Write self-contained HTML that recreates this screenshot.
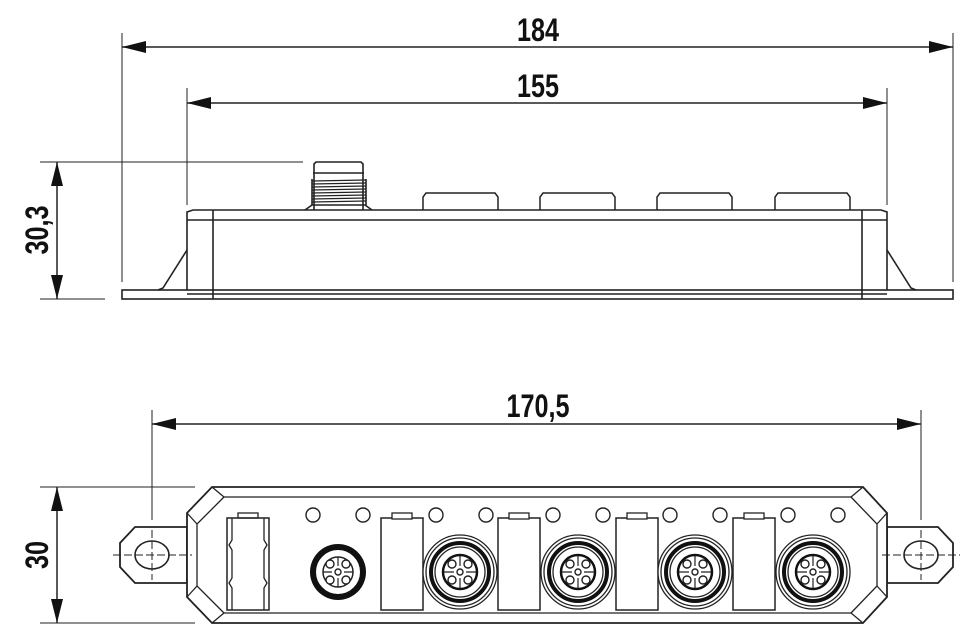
<!DOCTYPE html>
<html><head><meta charset="utf-8"><style>
html,body{margin:0;padding:0;background:#fff;}
svg{display:block;}
text{font-family:"Liberation Sans",sans-serif;font-weight:bold;fill:#111;}
</style></head><body>
<svg width="960" height="630" viewBox="0 0 960 630" xmlns="http://www.w3.org/2000/svg">
<defs>
<marker id="a" markerWidth="24" markerHeight="12" refX="0" refY="6" orient="auto" markerUnits="userSpaceOnUse">
<path d="M0,6 L24,0 L24,12 Z" fill="#111"/></marker>
<marker id="b" markerWidth="24" markerHeight="12" refX="24" refY="6" orient="auto" markerUnits="userSpaceOnUse">
<path d="M24,6 L0,0 L0,12 Z" fill="#111"/></marker>
<g id="big">
<circle r="37" fill="#fff" stroke="#222" stroke-width="1.3"/>
<circle r="34" fill="none" stroke="#222" stroke-width="1.3"/>
<circle r="29" fill="none" stroke="#111" stroke-width="4"/>
<circle r="25" fill="none" stroke="#222" stroke-width="1.3"/>
<circle r="17" fill="none" stroke="#111" stroke-width="2.5"/>
<g stroke="#222" stroke-width="1.4" fill="#fff">
<circle cx="-8" cy="-8" r="4"/><circle cx="8" cy="-8" r="4"/><circle cx="-8" cy="8" r="4"/><circle cx="8" cy="8" r="4"/>
<circle r="3"/></g>
<path d="M0,-16V-6M0,6V16M-16,0H-6M6,0H16" stroke="#222" stroke-width="1.2"/>
</g>
<g id="rect">
<rect x="0" y="0" width="42" height="92" fill="#fff" stroke="#222" stroke-width="1.5"/>
<rect x="11" y="-5" width="20" height="6" fill="#fff" stroke="#222" stroke-width="1.3"/>
</g>
</defs>
<g stroke="#222" fill="none">
<g stroke-width="1">
<line x1="122" y1="33" x2="122" y2="282"/><line x1="953" y1="33" x2="953" y2="282"/>
<line x1="187" y1="88" x2="187" y2="205"/><line x1="887" y1="88" x2="887" y2="205"/>
<line x1="40" y1="162" x2="303" y2="162"/><line x1="40" y1="299" x2="105" y2="299"/>
<line x1="40" y1="487" x2="195" y2="487"/><line x1="40" y1="623" x2="195" y2="623"/>
<line x1="152" y1="410" x2="152" y2="520"/><line x1="921" y1="410" x2="921" y2="520"/>
</g>
<g stroke-width="1.5">
<line x1="122" y1="47" x2="953" y2="47" marker-start="url(#a)" marker-end="url(#b)"/>
<line x1="187" y1="103" x2="887" y2="103" marker-start="url(#a)" marker-end="url(#b)"/>
<line x1="152" y1="424" x2="921" y2="424" marker-start="url(#a)" marker-end="url(#b)"/>
<line x1="57" y1="162" x2="57" y2="299" marker-start="url(#a)" marker-end="url(#b)"/>
<line x1="57" y1="487" x2="57" y2="623" marker-start="url(#a)" marker-end="url(#b)"/>
</g>
<g stroke-width="1.6">
<rect x="122" y="290" width="831" height="9"/>
<path d="M187,290 V212 L193,210 H881 L887,212 V290"/>
<line x1="187" y1="220" x2="887" y2="220"/>
<line x1="213" y1="210" x2="213" y2="299"/><line x1="862" y1="210" x2="862" y2="299"/>
<line x1="187" y1="294" x2="887" y2="294"/>
<path d="M187,250 L163,288 L158,290"/><path d="M887,250 L911,288 L916,290"/>
<path d="M314,210 V164 L316,162 H361 L363,164 V210"/>
<line x1="313" y1="173" x2="364" y2="173"/>
<path d="M305,210 L312,205 H365 L372,210"/>
</g>
<g stroke-width="1.3">
<line x1="312" y1="181" x2="366" y2="180"/><line x1="312" y1="184" x2="366" y2="183"/><line x1="312" y1="187" x2="366" y2="186"/><line x1="312" y1="190" x2="366" y2="189"/><line x1="312" y1="193" x2="366" y2="192"/><line x1="312" y1="196" x2="366" y2="195"/><line x1="312" y1="199" x2="366" y2="198"/><line x1="312" y1="202" x2="366" y2="201"/>
<path d="M312,179V205M366,179V205" stroke-width="1.6"/>
</g>
<g stroke-width="1.5">
<path d="M423,210 V197 L426,193 H495 L498,197 V210"/>
<path d="M540,210 V197 L543,193 H612 L615,197 V210"/>
<path d="M657,210 V197 L660,193 H729 L732,197 V210"/>
<path d="M775,210 V197 L778,193 H847 L850,197 V210"/>
</g>
<g stroke-width="1.8" fill="#fff">
<path d="M187,527 H135 L120,543 V567 L135,583 H187 Z"/>
<path d="M887,527 H938 L953,543 V567 L938,583 H887 Z"/>
<path d="M212,487 H863 L887,513 V597 L863,623 H212 L187,597 V513 Z"/>
</g>
<g stroke-width="1.3">
<path d="M224,497 H851 M224,613 H851"/>
<path d="M212,487 L224,497 L197,524 V586 L224,613 L212,623 M187,513 L197,524 M187,597 L197,586"/>
<path d="M863,487 L851,497 L877,524 V586 L851,613 L863,623 M887,513 L877,524 M887,597 L877,586"/>
<ellipse cx="152" cy="555" rx="17" ry="14" stroke-width="1.6"/>
<ellipse cx="921" cy="555" rx="17" ry="14" stroke-width="1.6"/>
<path d="M113,555H192M152,530V580M882,555H960M921,530V580" stroke-dasharray="8,3" stroke-width="1"/>
<rect x="227" y="518" width="42" height="92" stroke-width="1.5"/>
<rect x="238" y="513" width="20" height="5"/>
<path d="M232,518 V540 L229,545 L232,550 V578 L229,583 L232,588 V610 M264,518 V540 L267,545 L264,550 V578 L267,583 L264,588 V610"/>
</g>
<g stroke-width="1.4">
<circle cx="313" cy="515" r="7"/><circle cx="363" cy="515" r="7"/><circle cx="436" cy="515" r="7"/><circle cx="486" cy="515" r="7"/>
<circle cx="553" cy="515" r="7"/><circle cx="603" cy="515" r="7"/><circle cx="670" cy="515" r="7"/><circle cx="720" cy="515" r="7"/>
<circle cx="788" cy="515" r="7"/><circle cx="838" cy="515" r="7"/>
</g>
<use href="#rect" x="381" y="518"/><use href="#rect" x="498" y="518"/><use href="#rect" x="616" y="518"/><use href="#rect" x="733" y="518"/>
<use href="#big" x="460" y="572"/><use href="#big" x="578" y="572"/><use href="#big" x="695" y="572"/><use href="#big" x="813" y="572"/>
<g transform="translate(338,572)">
<circle r="28" fill="#111" stroke="none"/><circle r="23" fill="#fff" stroke="#111" stroke-width="2"/>
<circle r="15" fill="none" stroke="#222" stroke-width="1.5"/>
<g stroke="#222" stroke-width="1.4" fill="#fff">
<circle cx="-8" cy="-8" r="4"/><circle cx="8" cy="-8" r="4"/><circle cx="-8" cy="8" r="4"/><circle cx="8" cy="8" r="4"/><circle r="3"/></g>
<path d="M0,-15V-6M0,6V15M-15,0H-6M6,0H15" stroke="#222" stroke-width="1.2"/>
</g>
</g>
<text transform="translate(538,41) scale(0.9,1.15)" font-size="28" text-anchor="middle">184</text>
<text transform="translate(538,97) scale(0.9,1.15)" font-size="28" text-anchor="middle">155</text>
<text transform="translate(538,417) scale(0.9,1.15)" font-size="28" text-anchor="middle">170,5</text>
<text transform="translate(48,230) rotate(-90) scale(0.9,1.15)" font-size="28" text-anchor="middle">30,3</text>
<text transform="translate(48,555) rotate(-90) scale(0.9,1.15)" font-size="28" text-anchor="middle">30</text>
</svg>
</body></html>
